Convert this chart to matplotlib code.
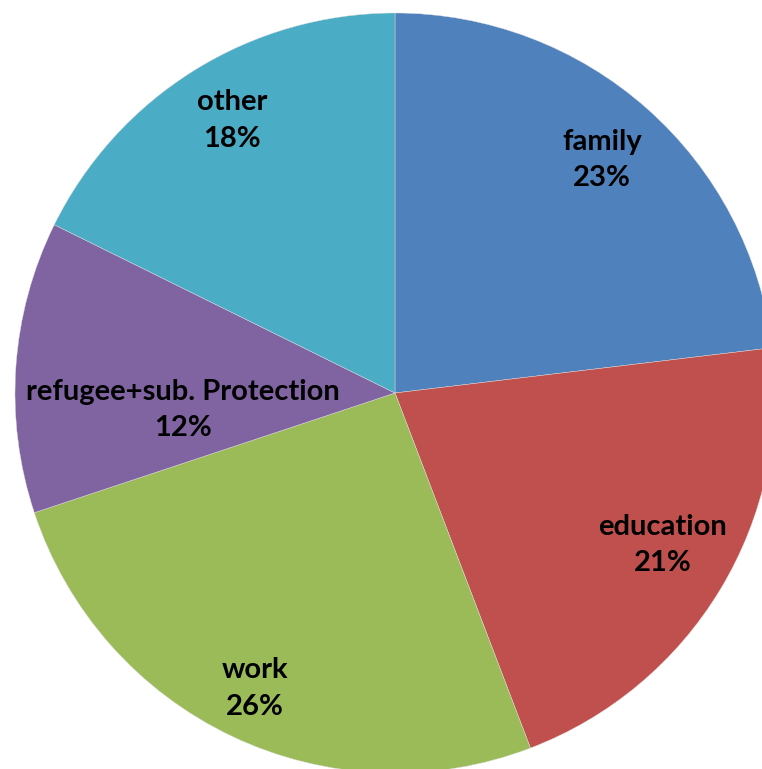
import numpy as np
import matplotlib
matplotlib.use("Agg")
import matplotlib.pyplot as plt

labels = ["family", "education", "work", "refugee+sub. Protection", "other"]
# shares; labels show them rounded
shares = [23.1, 21.1, 25.7, 12.4, 17.7]
colors = ["#4F81BD", "#C0504D", "#9BBB59", "#8064A2", "#4BACC6"]
# where the label sits: fraction of the radius, and a turn (deg) off the wedge middle
label_dist = [0.82, 0.81, 0.86, 0.56, 0.835]
label_turn = [0, 1.5, 0, 8.5, -1]

fig = plt.figure(figsize=(7.62, 7.69), dpi=100)
ax = fig.add_axes([0, 0, 1, 1])

wedges, _ = ax.pie(shares, colors=colors, startangle=90, counterclock=False,
                   radius=1, wedgeprops=dict(edgecolor="#dddddd", linewidth=0.3))

for w, name, pct, d, t in zip(wedges, labels, shares, label_dist, label_turn):
    mid = np.deg2rad((w.theta1 + w.theta2) / 2 + t)
    ax.text(d * np.cos(mid), d * np.sin(mid), f"{name}\n{pct:.0f}%",
            ha="center", va="center", fontsize=21, fontweight="bold",
            family="Lato", linespacing=1.5, color="black")

# pie centre sits at pixel (395, 393), radius 380 px; chart is cropped
ax.set_xlim(-395 / 380, (762 - 395) / 380)
ax.set_ylim(-(769 - 393) / 380, 393 / 380)
ax.set_aspect("auto")
ax.axis("off")

fig.savefig("out.png", dpi=100)
